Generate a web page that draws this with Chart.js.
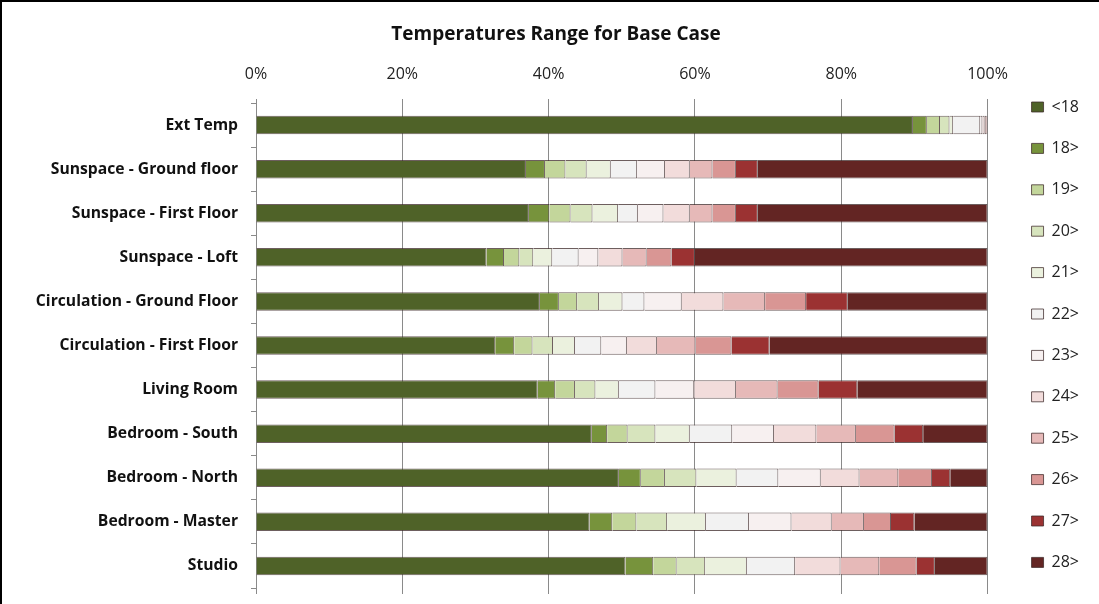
<!DOCTYPE html>
<html>
<head>
<meta charset="utf-8">
<script src="https://cdn.jsdelivr.net/npm/chart.js@4"></script>
<style>
  html, body { margin: 0; padding: 0; background: #fff; }
  .frame { position: relative; width: 1097px; height: 602px; border-top: 2px solid #000; border-left: 2px solid #000; }
  canvas { display: block; }
</style>
</head>
<body>
<div class="frame"><canvas id="chart" width="1097" height="602"></canvas></div>
<script>
const categories = ['Ext Temp', 'Sunspace - Ground floor', 'Sunspace - First Floor', 'Sunspace - Loft',
  'Circulation - Ground Floor', 'Circulation - First Floor', 'Living Room', 'Bedroom - South',
  'Bedroom - North', 'Bedroom - Master', 'Studio']
const seriesLabels = ['<18', '18>', '19>', '20>', '21>', '22>', '23>', '24>', '25>', '26>', '27>', '28>']
const tickLabels = ['0%', '20%', '40%', '60%', '80%', '100%']

// share of hours (%) in each band, one value per room
const below18 = [89.8, 36.9, 37.3, 31.5, 38.8, 32.7, 38.5, 45.9, 49.6, 45.6, 50.5]
const band18 = [1.9, 2.6, 2.8, 2.4, 2.6, 2.6, 2.4, 2.1, 3.0, 3.1, 3.8]
const band19 = [1.8, 2.8, 2.9, 2.1, 2.5, 2.5, 2.7, 2.8, 3.3, 3.3, 3.2]
const band20 = [1.3, 2.9, 3.0, 1.9, 3.0, 2.8, 2.8, 3.8, 4.3, 4.2, 3.9]
const band21 = [0.5, 3.3, 3.5, 2.6, 3.2, 3.0, 3.2, 4.7, 5.5, 5.3, 5.7]
const band22 = [3.7, 3.6, 2.7, 3.6, 3.0, 3.6, 5.0, 5.8, 5.7, 5.9, 6.6]
const band23 = [0.3, 3.8, 3.5, 2.7, 5.1, 3.5, 5.3, 5.7, 5.8, 5.8, 0]
const band24 = [0.3, 3.4, 3.6, 3.3, 5.7, 4.1, 5.7, 5.8, 5.3, 5.5, 6.2]
const band25 = [0.2, 3.1, 3.1, 3.3, 5.7, 5.3, 5.7, 5.4, 5.3, 4.4, 5.3]
const band26 = [0.1, 3.2, 3.2, 3.4, 5.6, 4.9, 5.6, 5.3, 4.6, 3.7, 5.1]
const band27 = [0.05, 3.0, 3.0, 3.2, 5.7, 5.2, 5.3, 3.9, 2.5, 3.2, 2.5]
const band28 = [0.05, 31.4, 31.4, 40.0, 19.1, 29.8, 17.8, 8.8, 5.1, 10.0, 7.2]

const seriesValues = [below18, band18, band19, band20, band21, band22, band23, band24, band25, band26, band27, band28]
const colors = ['#4f6228', '#77933c', '#c3d69b', '#d7e4bd', '#ebf1de', '#f2f2f2',
  '#f7f0f0', '#f2dcdb', '#e6b9b8', '#d99694', '#9b3232', '#632523']

const FONT = '"Open Sans", Lato, sans-serif'
const GRID = '#8a8a8a'

const datasets = seriesLabels.map((label, i) => ({
  label,
  data: seriesValues[i],
  backgroundColor: colors[i],
  borderColor: 'rgba(60,40,40,0.75)',
  borderWidth: 1,
  barPercentage: 0.42,
  categoryPercentage: 1,
}))

new Chart(document.getElementById('chart'), {
  type: 'bar',
  data: { labels: categories, datasets },
  options: {
    indexAxis: 'y',
    responsive: false,
    animation: false,
    layout: { padding: { left: 21, right: 10, top: 0, bottom: 0 } },
    scales: {
      x: {
        position: 'top',
        stacked: true,
        min: 0,
        max: 100,
        border: { display: false },
        grid: { color: GRID, lineWidth: 1, drawTicks: true, tickLength: 4, tickColor: GRID },
        ticks: {
          stepSize: 20,
          padding: 15,
          color: '#222',
          font: { family: FONT, size: 16 },
          callback: (v) => tickLabels[v / 20],
        },
      },
      // bottom strip: only the short grid stubs below the last bar
      xBottom: {
        type: 'linear',
        position: 'bottom',
        min: 0,
        max: 100,
        border: { display: false },
        grid: { drawOnChartArea: false, drawTicks: true, tickLength: 6, tickColor: GRID },
        ticks: { stepSize: 20, display: false },
        afterFit: (s) => { s.height = 16 },
      },
      y: {
        stacked: true,
        border: { display: true, color: GRID },
        grid: { drawOnChartArea: false, drawTicks: true, tickLength: 5, tickColor: GRID },
        ticks: { color: '#111', padding: 13, font: { family: FONT, size: 15.7, weight: 'bold' } },
        afterFit: (s) => {
          s.width = 233
          // labels sit inside their bands, no extra room needed above/below
          s.paddingTop = 0
          s.paddingBottom = 0
        },
      },
      // empty gap between the plot and the legend
      yGap: {
        type: 'linear',
        position: 'right',
        display: true,
        border: { display: false },
        grid: { display: false },
        ticks: { display: false },
        afterFit: (s) => { s.width = 18.6 },
      },
    },
    plugins: {
      title: {
        display: true,
        text: 'Temperatures Range for Base Case',
        color: '#111',
        font: { family: FONT, size: 19, weight: 'bold' },
        padding: { top: 21, bottom: 4 },
      },
      legend: {
        position: 'right',
        align: 'start',
        title: { display: true, text: ' ', font: { size: 10 }, padding: { top: 59.6, bottom: 0 } },
        labels: {
          boxWidth: 12,
          boxHeight: 10,
          padding: 25.4,
          color: '#222',
          font: { family: FONT, size: 16 },
        },
      },
      tooltip: { enabled: false },
    },
  },
})
</script>
</body>
</html>
